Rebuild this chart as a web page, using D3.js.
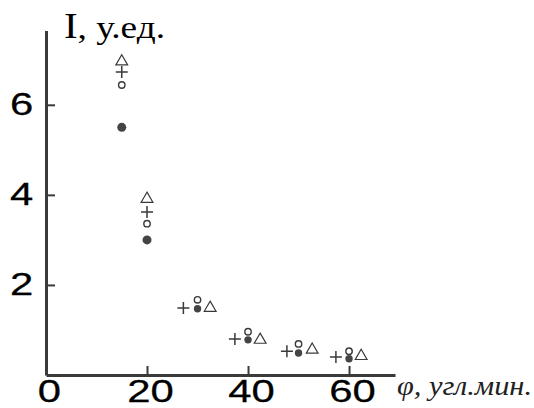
<!DOCTYPE html>
<html>
<head>
<meta charset="utf-8">
<script src="https://cdn.jsdelivr.net/npm/d3@7"></script>
<style>
  body { margin: 0; background: #fff; }
  svg { display: block; }
</style>
</head>
<body>
<svg></svg>
<script>
let width = 534, height = 408;

let svg = d3.select("svg")
    .attr("width", width)
    .attr("height", height);

// data: phi (arc min), I (arb. units)
let phiFilled = [15, 20, 30, 40, 50, 60];
let iFilled = [5.5, 3.0, 1.47, 0.78, 0.49, 0.36];

let phiOpen = [15, 20, 30, 40, 50, 60];
let iOpen = [6.44, 3.36, 1.67, 0.96, 0.69, 0.53];

let phiPlus = [15, 20, 27.2, 37.4, 47.7, 57.4];
let iPlus = [6.73, 3.62, 1.49, 0.8, 0.53, 0.4];

let phiTri = [15, 20, 32.5, 42.4, 52.7, 62.4];
let iTri = [6.96, 3.91, 1.49, 0.78, 0.56, 0.42];

let xTicks = [0, 20, 40, 60];
let yTicks = [2, 4, 6];

let x = d3.scaleLinear().domain([0, 69.1]).range([46, 395]);
let y = d3.scaleLinear().domain([0, 7.65]).range([375, 30.5]);

let ink = "#3a3a3a";
let digitFont = "'Liberation Sans', Arial, sans-serif";

// x axis
let xAxis = svg.append("g")
    .attr("transform", "translate(0," + y(0) + ")")
    .call(d3.axisBottom(x).tickValues(xTicks).tickSizeInner(-9).tickSizeOuter(0).tickPadding(5));
xAxis.select(".domain").attr("stroke", ink).attr("stroke-width", 3);
xAxis.selectAll(".tick line").attr("stroke", ink).attr("stroke-width", 2)
    .attr("display", d => d === 0 ? "none" : null);
xAxis.selectAll(".tick text")
    .attr("fill", "#000")
    .attr("stroke", "#000")
    .attr("stroke-width", 0.25)
    .attr("font-family", digitFont)
    .attr("font-size", 31)
    .attr("transform", "translate(3,0) scale(1.35,1)");

// y axis
let yAxis = svg.append("g")
    .attr("transform", "translate(" + x(0) + ",0)")
    .call(d3.axisLeft(y).tickValues(yTicks).tickSizeInner(-9).tickSizeOuter(0).tickPadding(9.5));
yAxis.select(".domain").attr("stroke", ink).attr("stroke-width", 3);
yAxis.selectAll(".tick line").attr("stroke", ink).attr("stroke-width", 2);
yAxis.selectAll(".tick text")
    .attr("fill", "#000")
    .attr("stroke", "#000")
    .attr("stroke-width", 0.25)
    .attr("font-family", digitFont)
    .attr("font-size", 31)
    .attr("transform", "scale(1.35,1)");

// axis titles
let yTitle = svg.append("text")
    .attr("x", 64)
    .attr("y", 38)
    .attr("font-family", "'Liberation Serif', 'Times New Roman', serif")
    .attr("fill", "#000")
    .attr("textLength", 101)
    .attr("lengthAdjust", "spacingAndGlyphs");
yTitle.append("tspan").attr("font-size", 35).text("I");
yTitle.append("tspan").attr("font-size", 32).text(", у.ед.");

svg.append("text")
    .attr("x", 397)
    .attr("y", 395)
    .attr("font-family", "'Liberation Serif', 'Times New Roman', serif")
    .attr("font-style", "italic")
    .attr("font-size", 27)
    .attr("fill", "#222")
    .attr("textLength", 135)
    .attr("lengthAdjust", "spacingAndGlyphs")
    .text("φ, угл.мин.");

// markers
let pts = (px, py) => px.map((p, i) => [p, py[i]]);

svg.append("g")
    .selectAll("circle")
    .data(pts(phiFilled, iFilled))
    .enter()
    .append("circle")
    .attr("cx", d => x(d[0]))
    .attr("cy", d => y(d[1]))
    .attr("r", (d, i) => i < 2 ? 4.5 : 3.7)
    .attr("fill", "#444");

svg.append("g")
    .selectAll("circle")
    .data(pts(phiOpen, iOpen))
    .enter()
    .append("circle")
    .attr("cx", d => x(d[0]))
    .attr("cy", d => y(d[1]))
    .attr("r", 3.2)
    .attr("fill", "#fff")
    .attr("stroke", ink)
    .attr("stroke-width", 1.4);

svg.append("g")
    .selectAll("path")
    .data(pts(phiPlus, iPlus))
    .enter()
    .append("path")
    .attr("transform", d => "translate(" + x(d[0]) + "," + y(d[1]) + ")")
    .attr("d", "M-6,0H6M0,-6V6")
    .attr("stroke", ink)
    .attr("stroke-width", 1.5)
    .attr("fill", "none");

svg.append("g")
    .selectAll("path")
    .data(pts(phiTri, iTri))
    .enter()
    .append("path")
    .attr("transform", d => "translate(" + x(d[0]) + "," + y(d[1]) + ")")
    .attr("d", d3.symbol().type(d3.symbolTriangle).size(60))
    .attr("stroke", ink)
    .attr("stroke-width", 1.2)
    .attr("fill", "none");
</script>
</body>
</html>
